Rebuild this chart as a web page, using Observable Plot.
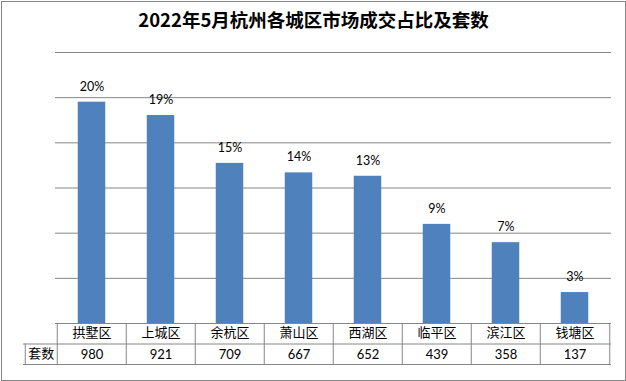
<!DOCTYPE html>
<html>
<head>
<meta charset="utf-8">
<script src="https://cdn.jsdelivr.net/npm/d3@7"></script>
<script src="https://cdn.jsdelivr.net/npm/@observablehq/plot@0.6"></script>
<style>
  body { margin: 0; background: #fff; }
  svg { display: block; }
</style>
</head>
<body>
<div id="chart"></div>
<script>
const title = "2022年5月杭州各城区市场成交占比及套数";
const districts = ["拱墅区", "上城区", "余杭区", "萧山区", "西湖区", "临平区", "滨江区", "钱塘区"];
const counts = [980, 921, 709, 667, 652, 439, 358, 137];
const shares = ["20%", "19%", "15%", "14%", "13%", "9%", "7%", "3%"];
const rowLabel = "套数";
const gridTicks = [200, 400, 600, 800, 1000, 1200];

const data = districts.map((d, i) => ({district: d, count: counts[i], share: shares[i]}));

const W = 626, H = 381;
const mL = 55, mR = 15, mT = 52, mB = 58;
const step = (W - mL - mR) / districts.length;
const half = step / 2;
const rowH = 20.5;
const frameH = H - mT - mB;
const font = "Lato, 'Noto Sans CJK SC', sans-serif";
const gray = "#868686";

const chart = Plot.plot({
  width: W,
  height: H,
  marginLeft: mL,
  marginRight: mR,
  marginTop: mT,
  marginBottom: mB,
  style: {fontFamily: font, background: "#fff", overflow: "visible"},
  x: {type: "band", domain: districts, padding: 0, axis: null},
  y: {domain: [0, 1200], axis: null},
  marks: [
    // outer border
    Plot.frame({stroke: gray, insetLeft: -(mL - 1), insetRight: -(mR - 1), insetTop: -(mT - 1), insetBottom: -(mB - 1)}),
    // title
    Plot.text([title], {frameAnchor: "top", lineAnchor: "middle", dx: -(mL - mR) / 2, dy: -31.5, fontSize: 18.5, fontWeight: "bold", fill: "#000", fontFamily: "'Noto Sans CJK SC', sans-serif"}),
    // gridlines
    Plot.ruleY(gridTicks, {stroke: gray, strokeWidth: 1}),
    // bars
    Plot.barY(data, {x: "district", y: "count", fill: "#4F81BD", insetLeft: (step - 28) / 2, insetRight: (step - 28) / 2}),
    // percent labels
    Plot.text(data, {x: "district", y: "count", text: "share", lineAnchor: "middle", dy: -15.5, fontSize: 12.5, fill: "#000"}),
    // table horizontal lines
    Plot.ruleY([0], {stroke: gray}),
    Plot.ruleY([0], {stroke: gray, dy: rowH, insetLeft: -32}),
    Plot.ruleY([0], {stroke: gray, dy: rowH * 2, insetLeft: -32}),
    // table vertical lines
    Plot.ruleX(districts, {x: d => d, dx: -half, stroke: gray, insetTop: frameH, insetBottom: -rowH * 2}),
    Plot.ruleX(districts.slice(-1), {x: d => d, dx: half, stroke: gray, insetTop: frameH, insetBottom: -rowH * 2}),
    Plot.ruleX(districts.slice(0, 1), {x: d => d, dx: -half - 32, stroke: gray, insetTop: frameH + rowH, insetBottom: -rowH * 2}),
    // table text
    Plot.text(districts, {x: d => d, frameAnchor: "bottom", lineAnchor: "middle", dy: 9.8, fontSize: 13, fill: "#000"}),
    Plot.text(data, {x: "district", text: d => String(d.count), frameAnchor: "bottom", lineAnchor: "middle", dy: rowH * 1.5 + 0.8, fontSize: 13, fill: "#000"}),
    Plot.text([rowLabel], {x: () => districts[0], frameAnchor: "bottom", lineAnchor: "middle", dx: -half - 16, dy: rowH * 1.5, fontSize: 13, fill: "#000"})
  ]
});

document.getElementById("chart").appendChild(chart);
</script>
</body>
</html>
